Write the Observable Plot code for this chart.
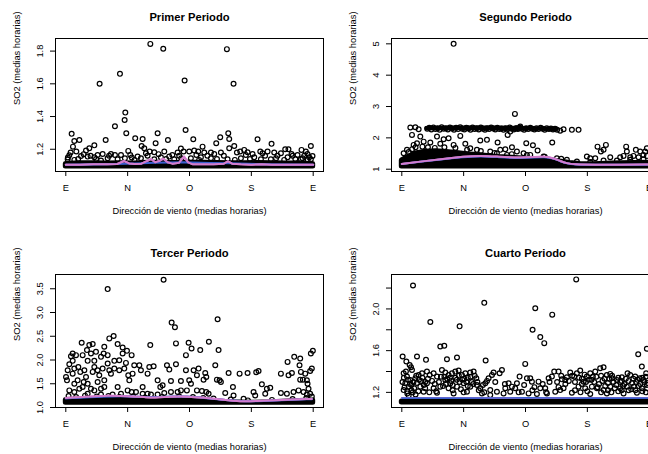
<!DOCTYPE html>
<html>
<head>
<meta charset="utf-8">
<script src="https://cdn.jsdelivr.net/npm/d3@7"></script>
<script src="https://cdn.jsdelivr.net/npm/@observablehq/plot@0.6"></script>
<style>
html,body{margin:0;padding:0;background:#fff;}
#c{position:relative;width:648px;height:454px;overflow:hidden;background:#fff;}
#c > div{position:absolute;width:336px;height:236px;}
#c svg{max-width:none !important;}
</style>
</head>
<body>
<div id="c"></div>
<script>
// ---------- shared axis data ----------
const xTicks = [0, 90, 180, 270, 360];
const xTickLabels = ["E", "N", "O", "S", "E"];
const xDomain = [-15, 375];
const xTitle = "Dirección de viento (medias horarias)";
const yTitle = "SO2 (medias horarias)";
const titles = ["Primer Periodo", "Segundo Periodo", "Tercer Periodo", "Cuarto Periodo"];

// ---------- Panel 1 ----------
const p1YDomain = [1.064, 1.877];
const p1YTicks = [1.2, 1.4, 1.6, 1.8];
const p1YLabelAt = [1.2, 1.4, 1.6, 1.8];
const p1YLabels = ["1.2", "1.4", "1.6", "1.8"];
const p1Base = 1.094;
const p1BandDeg = [0,20,40,60,80,100,120,140,160,180,200,220,240,260,280,300,320,340,360];
const p1BandTop = [1.11,1.114,1.115,1.113,1.115,1.113,1.118,1.118,1.116,1.118,1.118,1.116,1.115,1.114,1.116,1.114,1.113,1.113,1.11];
const p1Points = [
[123,1.844],[141.8,1.814],[234.4,1.812],[78.8,1.661],[49.2,1.6],[172.9,1.62],[244.1,1.6],
[86.6,1.424],[85.6,1.379],[71.5,1.341],[88,1.298],[174.3,1.318],[133.6,1.298],[8.5,1.294],[236.4,1.298],
[58,1.257],[101,1.267],[111.8,1.263],[148.6,1.257],[185.5,1.261],[224.7,1.273],[218.9,1.237],[237.8,1.263],
[279,1.261],[299.4,1.233],[130.7,1.237],[237.8,1.206],[245.1,1.22],[356.6,1.22],[12.4,1.25],[19.7,1.257],
[41.5,1.224],[34.2,1.206],[110.3,1.22],[319.3,1.2],[324,1.2],[343,1.196],[349.3,1.186],[199,1.216],
[259.6,1.196],[283,1.186],
[10.4,1.216],[15.3,1.186],[5.1,1.163],[22.1,1.159],[29.4,1.192],[46.3,1.165],[53.6,1.171],[65.7,1.171],
[71.5,1.165],[80.3,1.165],[90.9,1.19],[93.8,1.165],[114.2,1.206],[116.6,1.176],[122,1.186],[128.7,1.182],
[143.3,1.186],[167.5,1.204],[171.4,1.186],[162.7,1.18],[179.6,1.186],[186.9,1.192],[192.7,1.186],[201.5,1.18],
[211.2,1.18],[216,1.171],[225.7,1.18],[249,1.18],[253.8,1.186],[264.5,1.182],[271.8,1.171],[286.3,1.176],
[293.6,1.186],[303.3,1.18],[313,1.176],[328.5,1.171],[337.2,1.165],[351.7,1.171],[354.2,1.151],[359,1.159],
[344.5,1.145],[60.9,1.145],[31.8,1.155],[41.5,1.151],[104.5,1.155],[138.4,1.151],[150.5,1.155],[196.6,1.151],
[274.2,1.151],[322.7,1.151],
[2.7,1.139],[12.4,1.135],[51.2,1.131],[75.4,1.139],[109.3,1.145],[128.7,1.139],[157.8,1.139],[182,1.145],
[211.2,1.145],[235.4,1.139],[254.8,1.145],[283.9,1.139],[298.4,1.139],[317.8,1.135],[342.1,1.139],[356.6,1.139],
[3,1.15],[7,1.18],[26,1.17],[36,1.16],[63,1.16],[96,1.15],[119,1.16],[135,1.17],[155,1.165],[165,1.16],
[190,1.165],[206,1.16],[230,1.16],[262,1.165],[290,1.16],[308,1.16],[330,1.16],[347,1.16],
[18,1.14],[44,1.14],[86,1.145],[100,1.135],[146,1.14],[168,1.145],[194,1.135],[220,1.14],[246,1.135],[268,1.14],
[306,1.145],[334,1.14],[352,1.135]
];
const p1Pink = [[0,1.105],[20,1.106],[40,1.108],[60,1.108],[75,1.11],[85,1.128],[92,1.113],[100,1.11],[110,1.112],[118,1.128],[124,1.14],[130,1.12],[137,1.13],[142,1.142],[148,1.12],[155,1.112],[165,1.118],[172,1.155],[178,1.12],[185,1.108],[200,1.108],[215,1.108],[230,1.112],[236,1.126],[242,1.112],[255,1.108],[270,1.106],[285,1.108],[300,1.105],[320,1.106],[340,1.105],[360,1.105]];
const p1Blue = [[0,1.106],[60,1.109],[100,1.113],[130,1.118],[170,1.12],[210,1.116],[240,1.114],[280,1.109],[360,1.106]];

// ---------- Panel 2 ----------
const p2YDomain = [0.927, 5.17];
const p2YTicks = [1, 2, 3, 4, 5];
const p2YLabelAt = [1, 2, 3, 4, 5];
const p2YLabels = ["1", "2", "3", "4", "5"];
const p2Base = 1.09;
const p2BandDeg = [0,10,20,35,50,65,80,95,110,125,140,155,170,185,200,215,230,245,260,275,290,305,320,340,360];
const p2BandTop = [1.28,1.4,1.5,1.56,1.57,1.55,1.52,1.48,1.45,1.42,1.39,1.37,1.35,1.33,1.31,1.29,1.25,1.2,1.17,1.16,1.17,1.18,1.19,1.2,1.21];
// the dense row of readings near 2.3
const p2RowDeg = [36, 80, 130, 180, 226];
const p2RowLow = [2.28, 2.28, 2.28, 2.28, 2.27];
const p2RowHigh = [2.31, 2.32, 2.32, 2.31, 2.29];
const p2Points = [
[75.4,5.0],[164.6,2.765],[218.9,1.85],[14.8,2.095],[12.4,2.33],[19.7,2.34],[24.5,2.276],[26.9,2.04],[31.8,1.88],
[51.2,2.04],[60.9,1.957],[68.1,1.99],[85.1,2.063],[114.2,1.914],[123.9,1.936],[92.4,1.81],[139.4,1.85],
[143.3,1.617],[150.6,1.638],[160.3,1.7],[167.5,1.564],[181.1,1.83],[190.8,1.766],[197.6,1.595],[177.2,1.51],
[154,2.095],[157.8,2.2],[167.5,2.31],[172.4,2.36],
[284.8,1.72],[289.7,1.564],[293.6,1.617],[297,1.776],[326.5,1.72],[327.5,1.564],[340.6,1.617],[346.9,1.564],
[354.2,1.564],[356.6,1.67],[351.7,1.457],[269.3,1.404],[274.2,1.35],[281.5,1.35],[303.3,1.383],[317.8,1.383],
[322.7,1.425],[332.4,1.383],[337.2,1.425],[344.5,1.383],[356.6,1.425],
[235.4,2.276],[247.5,2.255],[257.2,2.255],[230.5,2.23],
[37,2.29],[40,2.32],[43,2.27],[46,2.33],[49,2.28],[52,2.31],[55,2.26],[58,2.34],[61,2.29],[64,2.31],
[67,2.27],[70,2.33],[73,2.3],[76,2.26],[79,2.32],[82,2.28],[85,2.34],[88,2.29],[91,2.27],[94,2.32],
[97,2.3],[100,2.26],[103,2.33],[106,2.28],[109,2.31],[112,2.27],[115,2.33],[118,2.29],[121,2.26],[124,2.31],
[127,2.28],[130,2.33],[133,2.3],[136,2.27],[139,2.32],[142,2.28],[145,2.3],[148,2.26],[151,2.31],[154,2.28],
[157,2.33],[160,2.29],[163,2.27],[166,2.31],[169,2.28],[172,2.32],[175,2.29],[178,2.26],[181,2.31],[184,2.28],
[187,2.32],[190,2.29],[193,2.27],[196,2.31],[199,2.28],[202,2.32],[205,2.29],[208,2.26],[211,2.31],[214,2.28],
[217,2.3],[220,2.27],[223,2.29],[226,2.26],
[2.7,1.51],[7.5,1.617],[17.2,1.776],[22.1,1.83],[41.5,1.85],[56,1.81],[75.4,1.776],[99.6,1.67],[109.3,1.617],
[128.7,1.564],[138.4,1.51],[153,1.457],[186.9,1.457],[206.3,1.404],[225.7,1.35],[240.2,1.298],[254.8,1.245],
[274.2,1.234],[293.6,1.276],[313,1.276],[332.4,1.298],[351.7,1.32],
[10,1.55],[15,1.64],[20,1.7],[30,1.72],[38,1.7],[48,1.68],[62,1.7],[78,1.68],[95,1.62],[115,1.58],
[135,1.52],[160,1.48],[182,1.45],[208,1.4],[232,1.33]
];
const p2Pink = [[0,1.17],[30,1.25],[60,1.33],[90,1.4],[115,1.437],[140,1.4],[173,1.36],[195,1.39],[207,1.405],[220,1.36],[231,1.255],[240,1.19],[250,1.15],[280,1.14],[320,1.145],[360,1.15]];
const p2Blue = [[0,1.165],[30,1.245],[60,1.32],[90,1.39],[115,1.42],[140,1.385],[173,1.345],[195,1.375],[207,1.39],[220,1.35],[231,1.25],[240,1.185],[250,1.145],[280,1.14],[320,1.14],[360,1.145]];

// ---------- Panel 3 ----------
const p3YDomain = [1.0, 3.8];
const p3YTicks = [1.0, 1.5, 2.0, 2.5, 3.0, 3.5];
const p3YLabelAt = [1.0, 1.5, 2.0, 2.5, 3.0, 3.5];
const p3YLabels = ["1.0", "1.5", "2.0", "2.5", "3.0", "3.5"];
const p3Base = 1.1;
const p3BandDeg = [0,30,60,90,120,150,180,210,240,270,300,330,360];
const p3BandTop = [1.16,1.17,1.17,1.16,1.15,1.16,1.15,1.13,1.11,1.1,1.11,1.13,1.15];
const p3Points = [
[142.3,3.69],[60.9,3.493],[154,2.787],[158.8,2.688],[160.3,2.349],[122.9,2.314],[178.7,2.363],[174.8,2.102],
[183,2.243],[23.1,2.363],[34.2,2.314],[39.1,2.335],[30.8,2.208],[36.6,2.137],[43.9,2.172],[56,2.278],
[55.1,2.137],[63.3,2.455],[69.6,2.504],[75.4,2.335],[82.7,2.264],[89,2.193],[95.8,2.102],[87.5,1.939],
[82.7,2.137],[77.8,1.996],[70.6,1.982],[60.9,2.102],[51.2,2.066],[41.5,1.982],[31.8,1.982],[24.5,2.102],
[14.8,2.102],[10,2.137],[7.5,2.08],[5.1,1.911],[2.7,1.784],[0.3,1.643],[1.7,1.572],[10,1.713],[12.4,1.819],
[18.2,1.854],[21.1,1.749],[27,1.784],[29.4,1.643],[26,1.537],[17.2,1.572],[12.4,1.501],[19.7,1.395],
[24.5,1.431],[31.8,1.501],[39.1,1.749],[41.5,1.854],[46.3,1.784],[48.7,1.678],[53.6,1.819],[60.9,1.925],
[63.3,1.784],[56,1.572],[46.3,1.537],[36.6,1.395],[41.5,1.36],[51.2,1.395],[56,1.431],[65.7,1.713],
[70.6,1.819],[77.8,1.784],[85.1,1.819],[90.9,1.678],[99.6,1.89],[107,1.89],[109.3,1.784],[97.2,1.713],
[92.4,1.572],[95.8,1.325],[102.1,1.325],[111.8,1.431],[111.8,1.29],[119,1.713],[121.5,1.854],[127.8,1.869],
[133.6,1.572],[137.5,1.431],[140.9,1.466],[147.2,1.89],[150.6,1.798],[153,1.558],[160.3,1.911],[167.5,1.558],
[174.8,1.784],[179.6,1.572],[182.1,1.501],[176.2,1.36],[167.5,1.36],[162.7,1.325],[153,1.325],[143.3,1.304],
[133.6,1.275],[123.9,1.275],[119,1.29],[12.4,1.325],[5.1,1.36],[31.8,1.29],[51.2,1.275],[68.1,1.275],
[80.3,1.29],[90,1.36],[75.4,1.431],[10,1.982],
[220.9,2.857],[208.2,2.384],[222.3,2.208],[195.6,2.208],[217.5,1.89],[219.9,1.586],[223.8,1.572],[225.7,1.537],
[202.9,1.727],[204.4,1.643],[200.5,1.586],[193.2,1.819],[186,1.784],[190.8,1.678],[236.9,1.727],[243.2,1.431],
[252.9,1.713],[264.5,1.727],[277.1,1.741],[280.5,1.77],[285.3,1.487],[292.6,1.395],[297.5,1.417],[313,1.713],
[322.7,1.96],[324.1,1.678],[329,1.727],[332.4,2.066],[341.1,2.031],[340.1,1.89],[342.1,1.749],[341.1,1.586],
[345,1.586],[348.4,1.713],[350.8,1.572],[351.8,1.501],[353.2,1.395],[356.6,2.137],[359.5,2.193],[358,1.819],
[355.6,1.77],[190.8,1.36],[198.1,1.346],[204.4,1.325],[207.8,1.29],[232,1.304],[244.1,1.254],[258.7,1.184],
[273.2,1.325],[275.6,1.254],[290.2,1.29],[313,1.304],[321.7,1.29],[331.4,1.325],[338.7,1.36],[345.9,1.325],
[350.8,1.275],[355.6,1.29],
[4,1.24],[15,1.22],[28,1.25],[45,1.23],[62,1.24],[78,1.22],[98,1.23],[115,1.21],[140,1.22],[165,1.23],
[185,1.22],[200,1.2],[215,1.19],[240,1.17],[265,1.15],[300,1.16],[330,1.18],[350,1.2],[358,1.23]
];
const p3Pink = [[0,1.2],[30,1.225],[56,1.25],[80,1.24],[95,1.233],[115,1.22],[129,1.205],[153,1.23],[177,1.233],[200,1.21],[230,1.16],[254,1.127],[278,1.134],[312,1.16],[358,1.18]];
const p3Blue = [[0,1.19],[56,1.235],[95,1.24],[129,1.21],[153,1.235],[177,1.235],[200,1.205],[230,1.16],[254,1.13],[278,1.13],[312,1.155],[358,1.175]];

// ---------- Panel 4 ----------
const p4YDomain = [1.055, 2.33];
const p4YTicks = [1.2, 1.4, 1.6, 1.8, 2.0, 2.2];
const p4YLabelAt = [1.2, 1.6, 2.0];
const p4YLabels = ["1.2", "1.6", "2.0"];
const p4Base = 1.103;
const p4BandDeg = [0,60,120,180,240,300,360];
const p4BandTop = [1.112,1.112,1.112,1.112,1.112,1.112,1.112];
const p4Points = [
[16.3,2.225],[253.8,2.283],[120,2.058],[194.2,2.006],[218.9,1.945],[41.5,1.875],[84.1,1.833],[190.3,1.8],
[201.5,1.73],[207.3,1.672],[56,1.64],[61.8,1.647],[65.7,1.518],[80.3,1.534],[1.2,1.544],[22.1,1.544],
[35.2,1.512],[6.6,1.496],[11.4,1.463],[13.4,1.441],[14.8,1.415],[122,1.505],[179.6,1.473],[344,1.566],
[356.6,1.618],[349.3,1.447],
[2.7,1.383],[7.5,1.351],[5.1,1.287],[10,1.255],[2.7,1.222],[12.4,1.319],[19.7,1.335],[24.5,1.367],[29.4,1.383],
[36.6,1.399],[40.5,1.367],[46.3,1.383],[51.2,1.351],[58.4,1.415],[63.3,1.39],[68.1,1.367],[73,1.383],[77.8,1.399],
[82.7,1.409],[87.5,1.367],[92.4,1.383],[99.6,1.39],[104.5,1.399],[108.4,1.335],[114.2,1.239],[121.5,1.287],
[126.3,1.335],[131.2,1.367],[133.6,1.39],[142.3,1.383],[145.7,1.415],[150.6,1.239],[155.4,1.287],[160.3,1.255],
[167.5,1.287],[171.4,1.351],[182.1,1.335],[186.9,1.335],[189.3,1.303],[199,1.303],[201.5,1.239],[208.7,1.239],
[213.6,1.335],[218.4,1.351],[221.8,1.399],[228.1,1.399],[233,1.325],[237.8,1.319],[240.2,1.345],[245.1,1.39],
[250.9,1.351],[254.8,1.383],[259.6,1.409],[264.5,1.303],[269.3,1.351],[274.2,1.383],[281.5,1.399],[288.7,1.431],
[293.6,1.441],[298.4,1.367],[303.3,1.377],[305.7,1.335],[313,1.319],[320.2,1.345],[328.5,1.383],[332.4,1.367],
[339.6,1.351],[346,1.335],[351.7,1.319],[355.6,1.383],
[26.9,1.255],[36.6,1.287],[46.3,1.239],[56,1.255],[63.3,1.319],[70.6,1.287],[80.3,1.255],[90,1.287],[99.6,1.255],
[109.3,1.271],[128.7,1.222],[138.4,1.206],[148.1,1.19],[157.8,1.206],[174.8,1.206],[184.5,1.19],[196.6,1.184],
[211.2,1.19],[223.3,1.206],[230.5,1.222],[235.4,1.239],[247.5,1.197],[257.2,1.255],[266.9,1.239],[276.6,1.255],
[283.9,1.239],[293.6,1.222],[303.3,1.255],[317.8,1.239],[327.5,1.255],[337.2,1.255],[349.3,1.239],[356.6,1.271],
[31.8,1.206],[51.2,1.197],[75.4,1.19],[94.8,1.206],[116.6,1.19],[128.7,1.174],[274.2,1.184],[298.4,1.19],
[322.7,1.19],[342.1,1.197],
[280,1.3],[287,1.28],[292,1.31],[300,1.29],[308,1.3],[312,1.27],[318,1.3],[324,1.28],[330,1.31],[335,1.29],
[341,1.3],[347,1.28],[353,1.3],[358,1.29],[285,1.25],[296,1.26],[310,1.24],[322,1.26],[334,1.23],[345,1.26],
[357,1.24],[300,1.22],[315,1.21],[330,1.22],[350,1.21],[262,1.33],[266,1.37],[272,1.32],[278,1.35],
[1,1.3],[4,1.25],[8,1.21],[14,1.27],[18,1.24],[22,1.29],[28,1.31],[32,1.27],[16,1.2],[10,1.17],[20,1.18],
[62,1.35],[66,1.33],[72,1.31],[78,1.34],[84,1.3],[88,1.32],[96,1.34],[102,1.3],[106,1.36],[60,1.26],[68,1.24],
[86,1.23],[96,1.26],
[3,1.34],[6,1.4],[9,1.32],[12,1.28],[17,1.3],[21,1.36],[25,1.32],[30,1.34],[34,1.3],[38,1.33],[8,1.19],[14,1.22],
[24,1.21],[34,1.24],[40,1.2],
[44,1.31],[48,1.28],[54,1.3],[57,1.35],[64,1.28],[70,1.34],[74,1.27],[80,1.32],[83,1.36],[91,1.33],[94,1.3],
[100,1.35],[104,1.28],[110,1.3],[118,1.27],[124,1.31],[50,1.21],[74,1.22],[90,1.2],[112,1.22],[120,1.2],
[136,1.3],[150,1.28],[165,1.24],[178,1.27],[193,1.25],[205,1.28],[215,1.3],[226,1.3],[232,1.36],[238,1.28],
[170,1.2],[190,1.22],[210,1.2],[228,1.25],
[243,1.31],[248,1.36],[252,1.3],[258,1.34],[262,1.28],[268,1.3],[276,1.32],[283,1.35],[290,1.36],[295,1.33],
[302,1.33],[306,1.36],[315,1.34],[320,1.31],[326,1.33],[337,1.33],[343,1.32],[350,1.34],[355,1.35],[252,1.22],
[260,1.2],[270,1.21],[290,1.2],[305,1.2],[320,1.22],[340,1.22],[355,1.2]
];
const p4Pink = [[0,1.145],[90,1.145],[180,1.147],[270,1.145],[360,1.145]];
const p4Blue = [[0,1.145],[90,1.145],[180,1.147],[270,1.145],[360,1.145]];

// ---------- drawing ----------
const FONT = "'Liberation Sans', Arial, Helvetica, sans-serif";
const PINK = "#d37ccd";
const BLUE = "#3a5fcd";

function panel(cfg) {
  const band = cfg.bandDeg.map((d, i) => ({deg: d, top: cfg.bandTop[i], base: cfg.base}));
  const row = cfg.rowDeg ? cfg.rowDeg.map((d, i) => ({deg: d, lo: cfg.rowLow[i], hi: cfg.rowHigh[i]})) : [];
  return Plot.plot({
    width: 336,
    height: 236,
    marginLeft: 55,
    marginRight: 13,
    marginTop: 38,
    marginBottom: 65,
    style: {fontFamily: FONT, fontSize: "9.3px", background: "white", overflow: "visible", color: "black", maxWidth: "none"},
    x: {domain: xDomain},
    y: {domain: cfg.yDomain},
    marks: [
      Plot.areaY(band, {x: "deg", y1: "base", y2: "top", fill: "black", stroke: "black", strokeWidth: 5, strokeLinejoin: "round"}),
      Plot.areaY(row, {x: "deg", y1: "lo", y2: "hi", fill: "black", stroke: "black", strokeWidth: 3.5, strokeLinejoin: "round"}),
      Plot.dot(cfg.points, {x: d => d[0], y: d => d[1], r: 2.4, stroke: "black", strokeWidth: 1.2, fill: "none"}),
      Plot.line(cfg.pink, {x: d => d[0], y: d => d[1], stroke: PINK, strokeWidth: 2, curve: cfg.curve}),
      Plot.line(cfg.blue, {x: d => d[0], y: d => d[1], stroke: BLUE, strokeWidth: cfg.blueWidth || 2, curve: cfg.curve}),
      ...(cfg.pinkOnTop ? [Plot.line(cfg.pink, {x: d => d[0], y: d => d[1], stroke: PINK, strokeWidth: 2, curve: cfg.curve})] : []),
      Plot.frame({stroke: "black", strokeWidth: 1}),
      Plot.axisX({ticks: xTicks, tickSize: 5, tickFormat: () => "", label: null}),
      Plot.axisY({ticks: cfg.yTicks, tickSize: 5, tickFormat: () => "", label: null}),
      Plot.text(xTicks, {x: d => d, text: (d, i) => xTickLabels[i], frameAnchor: "bottom", dy: 17, lineAnchor: "middle", fontSize: 9.3, fill: "black"}),
      Plot.text(cfg.yLabelAt, {y: d => d, text: (d, i) => cfg.yLabels[i], frameAnchor: "left", dx: -15, rotate: -90, textAnchor: "middle", lineAnchor: "middle", fontSize: 9.3, fill: "black"}),
      Plot.text([cfg.title], {text: d => d, frameAnchor: "top", dy: -21.3, lineAnchor: "middle", fontWeight: "bold", fontSize: 11.2, fill: "black"}),
      Plot.text([xTitle], {text: d => d, frameAnchor: "bottom", dy: 40, lineAnchor: "middle", fontSize: 9.3, fill: "black"}),
      Plot.text([yTitle], {text: d => d, frameAnchor: "left", dx: -38, rotate: -90, lineAnchor: "middle", fontSize: 9.3, fill: "black"})
    ]
  });
}

const cfgs = [
  {title: titles[0], points: p1Points, bandDeg: p1BandDeg, bandTop: p1BandTop, base: p1Base, pink: p1Pink, blue: p1Blue, yDomain: p1YDomain, yTicks: p1YTicks, yLabelAt: p1YLabelAt, yLabels: p1YLabels, curve: "linear", pinkOnTop: true, left: 0, top: 0},
  {title: titles[1], points: p2Points, bandDeg: p2BandDeg, bandTop: p2BandTop, base: p2Base, rowDeg: p2RowDeg, rowLow: p2RowLow, rowHigh: p2RowHigh, pink: p2Pink, blue: p2Blue, yDomain: p2YDomain, yTicks: p2YTicks, yLabelAt: p2YLabelAt, yLabels: p2YLabels, curve: "basis", pinkOnTop: true, left: 336, top: 0},
  {title: titles[2], points: p3Points, bandDeg: p3BandDeg, bandTop: p3BandTop, base: p3Base, pink: p3Pink, blue: p3Blue, yDomain: p3YDomain, yTicks: p3YTicks, yLabelAt: p3YLabelAt, yLabels: p3YLabels, curve: "basis", pinkOnTop: true, left: 0, top: 236},
  {title: titles[3], points: p4Points, bandDeg: p4BandDeg, bandTop: p4BandTop, base: p4Base, pink: p4Pink, blue: p4Blue, blueWidth: 1.6, yDomain: p4YDomain, yTicks: p4YTicks, yLabelAt: p4YLabelAt, yLabels: p4YLabels, curve: "monotone-x", pinkOnTop: false, left: 336, top: 236}
];

const container = document.getElementById("c");
for (const cfg of cfgs) {
  const holder = document.createElement("div");
  holder.style.left = cfg.left + "px";
  holder.style.top = cfg.top + "px";
  holder.appendChild(panel(cfg));
  container.appendChild(holder);
}
</script>
</body>
</html>
